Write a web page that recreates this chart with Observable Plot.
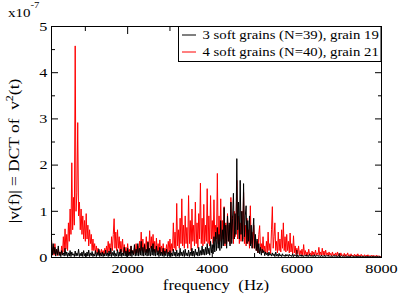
<!DOCTYPE html>
<html>
<head>
<meta charset="utf-8">
<script src="https://cdn.jsdelivr.net/npm/d3@7"></script>
<script src="https://cdn.jsdelivr.net/npm/@observablehq/plot@0.6"></script>
<style>
  html, body { margin: 0; padding: 0; background: #fff; }
  #chart { width: 399px; height: 296px; }
</style>
</head>
<body>
<div id="chart"></div>
<script>
// Frequency grid (Hz) of the sampled spectrum
const fStart = 200;
const fStep = 20;

// |v(f)| in units of 1e-7 — 4 soft grains (N=40), grain 21 (red); 20 samples per row (400 Hz)
const redValues = [
  0.40,0.10,0.22,0.05,0.30,0.08,0.15,0.04,0.20,0.06,0.12,0.05,0.25,0.08,0.45,0.12,0.62,0.18,0.50,0.15,
  0.75,0.35,1.05,0.50,2.05,0.60,1.30,0.70,4.58,1.00,1.40,2.92,0.90,1.20,0.60,1.05,0.50,0.90,0.40,0.80,
  0.35,0.95,0.40,0.70,0.25,0.60,0.30,0.50,0.15,0.40,0.15,0.30,0.08,0.25,0.10,0.20,0.06,0.15,0.05,0.18,
  0.08,0.15,0.05,0.20,0.08,0.25,0.10,0.35,0.12,0.30,0.08,0.45,0.15,0.50,0.84,0.20,0.55,0.15,0.60,0.20,
  0.45,0.10,0.35,0.12,0.40,0.08,0.28,0.10,0.22,0.05,0.30,0.08,0.18,0.05,0.25,0.10,0.15,0.06,0.20,0.08,
  0.30,0.10,0.25,0.08,0.35,0.12,0.55,0.15,0.40,0.10,0.30,0.12,0.45,0.10,0.35,0.15,0.58,0.20,0.45,0.12,
  0.50,0.15,0.35,0.10,0.42,0.12,0.30,0.08,0.38,0.10,0.25,0.08,0.30,0.06,0.20,0.10,0.28,0.08,0.35,0.12,
  0.40,0.10,0.30,0.15,0.75,0.20,0.55,0.15,1.17,0.25,0.60,0.20,0.85,0.30,1.27,0.25,0.70,0.20,0.90,0.30,
  0.65,0.20,1.34,0.30,0.80,0.15,1.05,0.35,0.70,0.25,1.20,0.30,0.75,0.20,0.95,0.40,1.61,0.30,0.85,0.25,
  1.15,0.30,0.70,0.35,1.49,0.30,0.90,0.25,1.34,0.40,0.80,0.30,1.25,0.35,0.70,0.40,1.82,0.30,0.90,0.35,
  1.27,0.30,0.80,0.40,1.10,0.25,0.75,0.30,0.95,0.35,0.70,0.30,1.30,0.40,0.90,0.30,1.00,0.45,0.60,1.67,
  0.40,0.90,0.30,0.75,0.35,1.00,0.40,1.41,0.30,0.70,0.25,0.85,0.30,0.60,0.20,1.12,0.30,0.55,0.20,0.70,
  0.20,0.45,0.15,0.35,0.10,0.50,0.69,0.15,0.30,0.10,0.45,0.12,0.25,0.08,0.35,0.10,0.55,0.15,0.30,0.08,
  0.60,1.10,0.20,0.45,0.75,0.15,0.35,0.10,0.55,0.15,0.40,0.12,0.60,0.20,0.75,0.15,0.45,0.12,0.50,0.15,
  0.35,0.10,0.53,0.12,0.30,0.08,0.47,0.10,0.25,0.06,0.20,0.08,0.25,0.05,0.15,0.06,0.18,0.04,0.28,0.06,
  0.15,0.04,0.12,0.05,0.18,0.06,0.10,0.03,0.14,0.05,0.12,0.04,0.16,0.05,0.10,0.06,0.22,0.05,0.12,0.04,
  0.20,0.05,0.14,0.04,0.16,0.06,0.10,0.03,0.12,0.05,0.09,0.03,0.12,0.04,0.08,0.05,0.10,0.03,0.12,0.04,
  0.08,0.03,0.10,0.04,0.06,0.03,0.09,0.02,0.07,0.04,0.10,0.03,0.06,0.02,0.08,0.03,0.05,0.02,0.07,0.03,
  0.06,0.02,0.08,0.03,0.05,0.02,0.07,0.03,0.04,0.02,0.06,0.02,0.05,0.03,0.06,0.02,0.04,0.02,0.05,0.02,
  0.05,0.02,0.04,0.02,0.05,0.02,0.04,0.02,0.03,0.02,0.03
];

// |v(f)| in units of 1e-7 — 3 soft grains (N=39), grain 19 (black)
const blackValues = [
  0.35,0.05,0.30,0.08,0.22,0.03,0.18,0.06,0.25,0.04,0.12,0.02,0.15,0.05,0.10,0.03,0.20,0.04,0.12,0.02,
  0.10,0.03,0.15,0.02,0.12,0.05,0.08,0.02,0.14,0.03,0.10,0.04,0.18,0.02,0.09,0.03,0.12,0.02,0.15,0.04,
  0.08,0.02,0.12,0.03,0.16,0.02,0.10,0.04,0.13,0.02,0.08,0.03,0.15,0.02,0.11,0.04,0.18,0.02,0.10,0.03,
  0.12,0.02,0.09,0.03,0.16,0.04,0.10,0.02,0.14,0.03,0.20,0.02,0.11,0.04,0.15,0.02,0.09,0.03,0.17,0.02,
  0.12,0.03,0.18,0.02,0.10,0.04,0.22,0.03,0.14,0.02,0.20,0.04,0.12,0.03,0.25,0.02,0.15,0.05,0.28,0.03,
  0.18,0.04,0.30,0.03,0.20,0.05,0.35,0.04,0.22,0.03,0.28,0.05,0.18,0.03,0.33,0.04,0.20,0.03,0.25,0.05,
  0.30,0.04,0.18,0.03,0.25,0.05,0.15,0.02,0.22,0.04,0.12,0.03,0.20,0.02,0.14,0.04,0.18,0.02,0.12,0.03,
  0.15,0.02,0.10,0.03,0.18,0.04,0.12,0.02,0.16,0.03,0.10,0.02,0.20,0.04,0.12,0.03,0.15,0.02,0.18,0.04,
  0.10,0.03,0.16,0.02,0.12,0.04,0.20,0.03,0.14,0.02,0.18,0.05,0.12,0.03,0.22,0.04,0.15,0.05,0.25,0.06,
  0.18,0.05,0.22,0.06,0.30,0.08,0.20,0.05,0.35,0.10,0.28,0.08,0.45,0.12,0.55,0.15,0.65,0.20,0.50,0.15,
  0.80,0.20,0.60,0.25,1.08,0.30,0.70,0.20,0.90,0.35,0.75,0.25,1.20,0.30,0.85,1.39,0.40,0.95,0.50,2.14,
  0.60,1.20,0.40,1.67,0.50,1.00,0.35,1.60,0.45,0.90,1.12,0.30,0.80,0.35,0.90,0.25,0.70,0.20,0.55,0.85,
  0.20,0.50,0.15,0.40,0.10,0.30,0.08,0.22,0.05,0.18,0.10,0.15,0.04,0.12,0.06,0.10,0.03,0.12,0.05,0.08,
  0.03,0.10,0.04,0.08,0.02,0.12,0.03,0.07,0.02,0.09,0.03,0.06,0.02,0.08,0.03,0.05,0.02,0.07,0.03,0.06,
  0.02,0.07,0.03,0.05,0.02,0.08,0.02,0.06,0.03,0.05,0.02,0.06,0.02,0.04,0.03,0.06,0.02,0.05,0.02,0.04,
  0.03,0.06,0.02,0.05,0.02,0.07,0.03,0.04,0.02,0.05,0.02,0.06,0.02,0.04,0.03,0.05,0.02,0.04,0.02,0.05,
  0.02,0.04,0.02,0.05,0.02,0.04,0.03,0.05,0.02,0.04,0.02,0.03,0.02,0.04,0.02,0.05,0.02,0.03,0.02,0.04,
  0.02,0.03,0.02,0.04,0.02,0.03,0.02,0.04,0.02,0.03,0.02,0.03,0.01,0.03,0.02,0.04,0.02,0.03,0.01,0.03,
  0.02,0.03,0.01,0.03,0.02,0.03,0.01,0.02,0.02,0.03,0.01,0.02,0.02,0.03,0.01,0.02,0.02,0.03,0.01,0.02,
  0.02,0.03,0.01,0.02,0.02,0.03,0.01,0.02,0.02,0.01,0.02
];

// Axis ticks
const xMajorTicks = [2000, 4000, 6000, 8000];
const xMinorTicks = [1000, 3000, 5000, 7000];
const yMajorTicks = [0, 1, 2, 3, 4, 5];
const yMinorTicks = [0.5, 1.5, 2.5, 3.5, 4.5];

const seriesNames = ["3 soft grains (N=39), grain 19", "4 soft grains (N=40), grain 21"];
const seriesColors = ["#000000", "#ff0000"];

const red = redValues.map((v, i) => ({f: fStart + i * fStep, v}));
const black = blackValues.map((v, i) => ({f: fStart + i * fStep, v}));

const FONT = "Liberation Serif, Times New Roman, serif";
const noText = () => "";

const chart = Plot.plot({
  width: 399,
  height: 296,
  marginLeft: 51,
  marginRight: 18,
  marginTop: 26,
  marginBottom: 39,
  style: {fontFamily: FONT, fontSize: "13.5px", background: "#fff", color: "#000"},
  x: {domain: [200, 8000]},
  y: {domain: [0, 5]},
  marks: [
    Plot.line(red, {x: "f", y: "v", stroke: seriesColors[1], strokeWidth: 1}),
    Plot.line(black, {x: "f", y: "v", stroke: seriesColors[0], strokeWidth: 1}),
    Plot.frame({stroke: "#000", strokeWidth: 1}),
    // x axis: labels, then inward ticks on bottom and top
    Plot.axisX({anchor: "bottom", ticks: xMajorTicks, tickSize: 0, tickPadding: 6, tickFormat: d3.format("d"), fontFamily: FONT, fontSize: 13.5, label: null}),
    Plot.axisX({anchor: "bottom", ticks: xMajorTicks, tickSize: -7, tickFormat: noText, label: null}),
    Plot.axisX({anchor: "bottom", ticks: xMinorTicks, tickSize: -4, tickFormat: noText, label: null}),
    Plot.axisX({anchor: "top", ticks: xMajorTicks, tickSize: -7, tickFormat: noText, label: null}),
    Plot.axisX({anchor: "top", ticks: xMinorTicks, tickSize: -4, tickFormat: noText, label: null}),
    // y axis: labels, then inward ticks on left and right
    Plot.axisY({anchor: "left", ticks: yMajorTicks, tickSize: 0, tickPadding: 4, tickFormat: d3.format("d"), fontFamily: FONT, fontSize: 13.5, label: null}),
    Plot.axisY({anchor: "left", ticks: yMajorTicks, tickSize: -7, tickFormat: noText, label: null}),
    Plot.axisY({anchor: "left", ticks: yMinorTicks, tickSize: -4, tickFormat: noText, label: null}),
    Plot.axisY({anchor: "right", ticks: yMajorTicks, tickSize: -7, tickFormat: noText, label: null}),
    Plot.axisY({anchor: "right", ticks: yMinorTicks, tickSize: -4, tickFormat: noText, label: null})
  ]
});

document.getElementById("chart").appendChild(chart);

const svg = d3.select(chart);
// drop the empty texts of the tick-only axes
svg.selectAll("text").filter(function() { return this.textContent === ""; }).remove();

const g = svg.append("g").attr("font-family", FONT).attr("fill", "#000").attr("text-anchor", "start");

// x-axis title
g.append("text")
  .attr("x", 216).attr("y", 290)
  .attr("text-anchor", "middle")
  .attr("font-size", 14)
  .attr("xml:space", "preserve")
  .text("frequency  (Hz)");

// y-axis title with superscript
const yt = g.append("text")
  .attr("transform", "translate(18.5,151) rotate(-90)")
  .attr("text-anchor", "middle")
  .attr("font-size", 14.5)
  .attr("xml:space", "preserve");
yt.append("tspan").text("|v(f)| = DCT of  v");
yt.append("tspan").attr("dy", -6).attr("font-size", 10).text("2");
yt.append("tspan").attr("dy", 6).text("(t)");

// exponent label
const ex = g.append("text").attr("x", 8).attr("y", 17).attr("font-size", 12.5).attr("text-anchor", "start");
ex.append("tspan").text("x10");
ex.append("tspan").attr("dy", -8.5).attr("font-size", 9).text("-7");

// legend
const lg = g.append("g");
lg.append("rect")
  .attr("x", 178.5).attr("y", 26.5).attr("width", 202.5).attr("height", 35)
  .attr("fill", "#fff").attr("stroke", "#000").attr("stroke-width", 1);
seriesNames.forEach((name, i) => {
  const yy = 35 + i * 17;
  lg.append("line")
    .attr("x1", 182).attr("x2", 196).attr("y1", yy).attr("y2", yy)
    .attr("stroke", seriesColors[i]).attr("stroke-width", 1);
  lg.append("text")
    .attr("x", 202.5).attr("y", yy + 4)
    .attr("text-anchor", "start")
    .attr("font-size", 12.3)
    .text(name);
});

// the reference typeface is about 1.2x wider than Liberation Serif: stretch every text along its baseline
svg.selectAll("text").each(function() {
  this.setAttribute("font-family", FONT);
  const bb = this.getBBox();
  const anchor = getComputedStyle(this).textAnchor;
  const ax = anchor === "middle" ? bb.x + bb.width / 2 : anchor === "end" ? bb.x + bb.width : bb.x;
  const prev = this.getAttribute("transform") || "";
  this.setAttribute("transform", `${prev} translate(${ax},0) scale(1.2,1) translate(${-ax},0)`);
});
</script>
</body>
</html>
